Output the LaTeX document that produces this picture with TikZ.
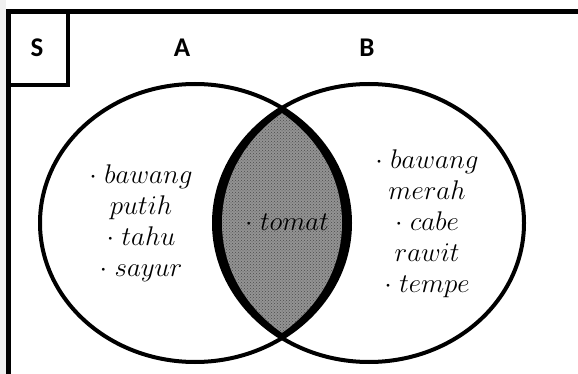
\RequirePackage{fix-cm}
\documentclass[tikz,border=0pt]{standalone}
\usepackage{fontspec}
\setsansfont{Carlito}
\usetikzlibrary{patterns,calc}

\tikzset{
  setlabel/.style={font=\sffamily\bfseries\fontsize{27}{30}\selectfont, inner sep=0pt},
  items/.style={align=center, font=\fontsize{27}{31}\selectfont, inner sep=0pt},
  ring/.style={line width=4pt},
  oval/.style={x radius=155pt, y radius=139pt}
}

\begin{document}
\begin{tikzpicture}[x=1pt,y=-1pt]
\useasboundingbox (0,0) rectangle (578,374);
\clip (0,0) rectangle (578,374);

\fill [gray!12] (0,0) rectangle (6,374);

% universe frame and its corner box
\draw [line width=5pt] (8.5,12) rectangle (640,440);
\draw [line width=4pt] (8.5,12) rectangle (68,85);

\coordinate (cA) at (195,223);
\coordinate (cB) at (369,223);

% shaded intersection with a heavy rim
\begin{scope}
  \clip (cA) ellipse [oval];
  \fill (cB) ellipse [oval];
\end{scope}
\begin{scope}
  \clip ($(cA)+(-8,0)$) ellipse [oval];
  \fill [gray!85] ($(cB)+(8,0)$) ellipse [oval];
  \fill [pattern=crosshatch dots, pattern color=black!70] ($(cB)+(8,0)$) ellipse [oval];
\end{scope}

\draw [ring] (cA) ellipse [oval];
\draw [ring] (cB) ellipse [oval];

\node [setlabel] (labS) at (37,48) {S};
\node [setlabel] (labA) at (182,48) {A};
\node [setlabel] (labB) at (367,48) {B};

\node [items] (itemsA) at (141,223) {$\cdot\;bawang$\\$putih$\\$\cdot\;tahu$\\$\cdot\;sayur$};
\node [items] (itemsAB) at (287,222) {$\cdot\;tomat$};
\node [items] (itemsB) at (427,224) {$\cdot\;bawang$\\$merah$\\$\cdot\;cabe$\\$rawit$\\$\cdot\;tempe$};

\end{tikzpicture}
\end{document}
